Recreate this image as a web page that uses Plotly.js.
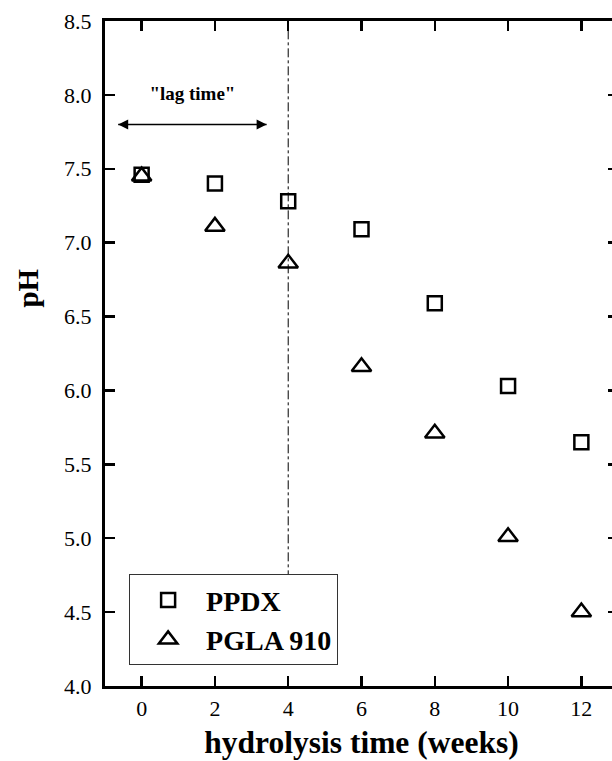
<!DOCTYPE html>
<html>
<head>
<meta charset="utf-8">
<script src="https://cdn.plot.ly/plotly-3.0.1.min.js"></script>
<style>
  html, body { margin: 0; padding: 0; overflow: hidden; background: #fff; }
  #chart { width: 625px; height: 761px; }
  #note { position: absolute; left: 0; top: 0; font: 10px monospace; color: transparent; pointer-events: none; }
</style>
</head>
<body>
<div id="chart"></div>
<div id="note"></div>
<script>
// ---- data ----
const weeks = [0, 2, 4, 6, 8, 10, 12];
const ppdxPH = [7.46, 7.40, 7.28, 7.09, 6.59, 6.03, 5.65];
const pglaPH = [7.45, 7.11, 6.86, 6.16, 5.71, 5.01, 4.50];
const seriesNames = ["PPDX", "PGLA 910"];
const xTickVals = [0, 2, 4, 6, 8, 10, 12];
const yTickVals = [4.0, 4.5, 5.0, 5.5, 6.0, 6.5, 7.0, 7.5, 8.0, 8.5];
const xRange = [-1, 13];
const yRange = [4, 8.5];
const lagLabel = '"lag time"';
const lagLabelX = [1.385];
const lagLabelY = [8.0];
const lagArrowX = [-0.64, 3.41];
const lagArrowY = [7.8, 7.8];
const lagLine = 4;
const xTitle = "hydrolysis time (weeks)";
const yTitle = "pH";

const serif = "Liberation Serif, Times New Roman, serif";

const traces = [
  {
    x: weeks, y: ppdxPH, name: seriesNames[0], type: "scatter", mode: "markers",
    marker: { symbol: "square-open", size: 14, color: "#000", line: { width: 2.5, color: "#000" } }
  },
  {
    x: weeks, y: pglaPH, name: seriesNames[1], type: "scatter", mode: "markers",
    marker: { symbol: "triangle-up-open", size: 17, color: "#000", line: { width: 2.5, color: "#000" } }
  },
  {
    x: lagArrowX, y: lagArrowY, type: "scatter", mode: "lines+markers", showlegend: false,
    line: { color: "#000", width: 1.5 },
    marker: { symbol: ["arrow-left", "arrow-right"], size: 10, color: "#000", line: { width: 0 } }
  },
  {
    x: lagLabelX, y: lagLabelY, type: "scatter", mode: "text", showlegend: false, cliponaxis: false,
    text: [lagLabel], textposition: "middle center",
    textfont: { family: serif, size: 19, color: "#000", weight: "bold" }
  }
];

const axisCommon = {
  showgrid: false, zeroline: false, showline: true, linewidth: 3, linecolor: "#000",
  mirror: "ticks", ticks: "inside", ticklen: 10, tickwidth: 2.5, tickcolor: "#000",
  tickfont: { family: serif, size: 22, color: "#000" }
};

// leading no-break spaces lift the rotated "pH" above the axis midpoint, as in the reference
const yTitleText = "&nbsp;".repeat(18) + "<b>" + yTitle + "</b>";

const layout = {
  width: 625, height: 761,
  margin: { l: 105, r: 7, t: 21, b: 75 },
  paper_bgcolor: "#fff", plot_bgcolor: "#fff",
  showlegend: true,
  legend: {
    x: 0.047, y: 0.168, xanchor: "left", yanchor: "top",
    bgcolor: "#fff", bordercolor: "#333", borderwidth: 1,
    font: { family: serif, size: 28, color: "#000", weight: "bold" },
    itemwidth: 66
  },
  xaxis: Object.assign({}, axisCommon, {
    range: xRange, tickvals: xTickVals, tickmode: "array", ticklabelstandoff: 1,
    title: { text: "<b>" + xTitle + "</b>", font: { family: serif, size: 31.5, color: "#000" }, standoff: 11 }
  }),
  yaxis: Object.assign({}, axisCommon, {
    range: yRange, tickvals: yTickVals, tickmode: "array", tickformat: ".1f", ticklabelstandoff: 6,
    title: { text: yTitleText, font: { family: serif, size: 29, color: "#000" }, standoff: 17 }
  }),
  shapes: [
    { type: "line", xref: "x", yref: "y", x0: lagLine, x1: lagLine, y0: 4.6, y1: 8.5,
      line: { color: "#000", width: 1, dash: "dashdot" }, layer: "below" }
  ]
};

Plotly.newPlot("chart", traces, layout, { displayModeBar: false, staticPlot: true }).then(() => {
  // force a final layout/paint pass once the figure is complete
  const n = document.querySelectorAll('path.xtick, path.ytick').length;
  document.getElementById('note').textContent = 'ticks:' + n;
});
</script>
</body>
</html>
